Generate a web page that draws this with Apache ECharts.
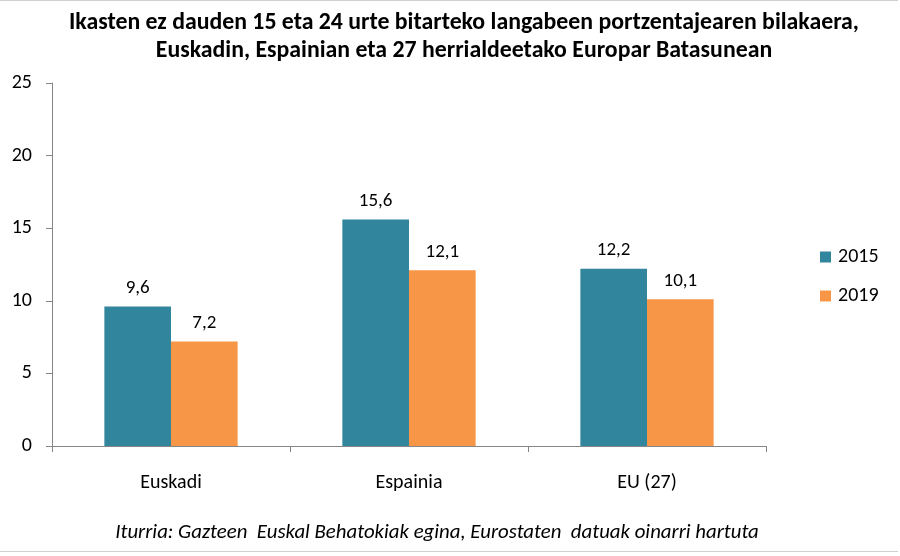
<!DOCTYPE html>
<html><head><meta charset="utf-8">
<script src="https://cdn.jsdelivr.net/npm/echarts@6/dist/echarts.min.js"></script>
<style>
html,body{margin:0;padding:0;background:#fff;}
#c{width:900px;height:556px;}
#frame{position:absolute;left:0;top:0;width:898px;height:550px;border:1px solid #d0d0d0;border-left:none;border-right:none;pointer-events:none;}
</style></head>
<body><div id="c"></div><div id="frame"></div>
<script>
const categories = ['Euskadi', 'Espainia', 'EU (27)'];
const values2015 = [9.6, 15.6, 12.2];
const values2019 = [7.2, 12.1, 10.1];
const seriesNames = ['2015', '2019'];
const titleLines = ['Ikasten ez dauden 15 eta 24 urte bitarteko langabeen portzentajearen bilakaera,', 'Euskadin, Espainian eta 27 herrialdeetako Europar Batasunean'];
const sourceText = 'Iturria: Gazteen  Euskal Behatokiak egina, Eurostaten  datuak oinarri hartuta';

const FONT = "Carlito, 'Liberation Sans Narrow', 'Open Sans', sans-serif";
const chart = echarts.init(document.getElementById('c'));
const lbl = {show:true, position:'top', distance:9, color:'#000', fontSize:19, fontFamily:FONT,
  formatter: p => String(p.value).replace('.', ',')};
chart.setOption({
  animation:false,
  title:[{text:titleLines.join('\n'), left:459, textAlign:'center', top:4,
    textStyle:{fontFamily:FONT, fontWeight:'bold', fontSize:23.8, color:'#000', lineHeight:28}},
    {text:sourceText, left:432, textAlign:'center', top:517,
    textStyle:{fontFamily:FONT, fontStyle:'italic', fontWeight:'normal', fontSize:20.8, color:'#000'}}],
  legend:{orient:'vertical', left:815, top:242, itemWidth:11, itemHeight:11, itemGap:19,
    icon:'rect', textStyle:{fontFamily:FONT, fontSize:20, color:'#000', padding:[0,0,0,2]}, data:seriesNames},
  grid:{left:52, right:134, top:83, bottom:110},
  xAxis:{type:'category', data:categories,
    axisLine:{lineStyle:{color:'#868686'}}, axisTick:{show:true, length:6, lineStyle:{color:'#868686'}},
    axisLabel:{margin:27, color:'#000', fontSize:20, fontFamily:FONT}},
  yAxis:{type:'value', min:0, max:25, interval:5,
    axisLine:{show:true, lineStyle:{color:'#868686'}}, axisTick:{show:true, length:6, lineStyle:{color:'#868686'}},
    splitLine:{show:false},
    axisLabel:{margin:20, color:'#000', fontSize:20, fontFamily:FONT}},
  series:[
    {name:seriesNames[0], type:'bar', data:values2015, barGap:'0%', barCategoryGap:'44%', itemStyle:{color:'#31859C'}, label:lbl},
    {name:seriesNames[1], type:'bar', data:values2019, barGap:'0%', barCategoryGap:'44%', itemStyle:{color:'#F79646'}, label:lbl}
  ]
});
</script></body></html>
